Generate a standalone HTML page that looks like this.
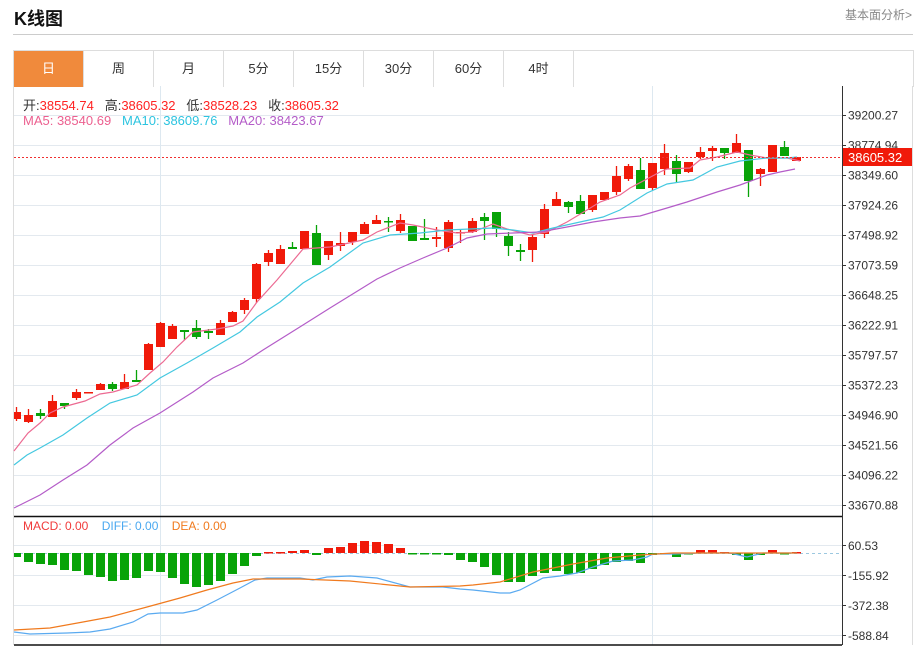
<!DOCTYPE html>
<html><head><meta charset="utf-8"><style>
body{margin:0;width:919px;height:648px;background:#fff;overflow:hidden;font-family:"Liberation Sans","Noto Sans CJK SC",sans-serif;position:relative}
.t{position:absolute;left:14px;top:5px;font-size:18px;font-weight:bold;color:#111}
.r{position:absolute;left:845px;top:6px;font-size:12px;color:#888}
.hl{position:absolute;left:13px;top:34px;width:900px;height:1px;background:#ccc}
.tabs{position:absolute;left:13px;top:50px;width:899px;height:36px;border:1px solid #ddd;border-bottom:none;display:flex}
.tabs div{width:69px;border-right:1px solid #ddd;text-align:center;line-height:36px;font-size:13px;color:#333}
.tabs div.a{background:#f08a3c;color:#fff}
svg{position:absolute;left:0;top:0}
</style></head><body>
<div class="t">K线图</div><div class="r">基本面分析&gt;</div><div class="hl"></div>
<div class="tabs"><div class="a">日</div><div>周</div><div>月</div><div>5分</div><div>15分</div><div>30分</div><div>60分</div><div>4时</div></div>
<svg id="s" width="919" height="648" font-family="Liberation Sans, Noto Sans CJK SC, sans-serif"></svg>
<script>
var s='';
function L(x1,y1,x2,y2,c,w,d){s+='<line x1="'+x1+'" y1="'+y1+'" x2="'+x2+'" y2="'+y2+'" stroke="'+c+'" stroke-width="'+(w||1)+'"'+(d?' stroke-dasharray="'+d+'"':'')+'/>';}
function T(x,y,t,c,sz){s+='<text x="'+x+'" y="'+y+'" fill="'+c+'" font-size="'+(sz||12)+'">'+t+'</text>';}
function P(pts,c){s+='<polyline fill="none" stroke="'+c+'" stroke-width="1.2" points="'+pts+'"/>';}
L(13.5,86,13.5,645,'#ddd');L(912.5,86,912.5,645,'#ddd');
var labs=['39200.27','38774.94','38349.60','37924.26','37498.92','37073.59','36648.25','36222.91','35797.57','35372.23','34946.90','34521.56','34096.22','33670.88'];
for(var i=0;i<14;i++){var y=115+30*i+.5;L(14,y,842,y,'#e3e9ef');L(842,y,846,y,'#333');T(848,y+4,labs[i],'#333',12);}
L(160.5,86,160.5,645,'#dde8f0');L(652.5,86,652.5,645,'#dde8f0');
[545,575,605,635].forEach(function(y,i){L(14,y+.5,842,y+.5,'#e3e9ef');L(842,y+.5,846,y+.5,'#333');T(848,y+5,['60.53','-155.92','-372.38','-588.84'][i],'#333',12);});
L(842.5,86,842.5,645,'#333');L(14,516.5,842,516.5,'#111',1.5);L(14,645,842,645,'#111',1.5);
var C=[[412,419,407,421,1],[415,422,409,423,1],[413,416,409,419,0],[401,417,395,417,1],[403,406,403,409,0],[392,398,389,400,1],[392,393,392,393,1],[384,390,383,390,1],[384,389,382,391,0],[382,389,374,389,1],[380,382,370,382,0],[344,370,343,370,1],[323,347,322,347,1],[326,339,324,339,1],[330,332,330,340,0],[328,337,320,339,0],[331,333,329,339,0],[323,335,320,335,1],[312,322,311,322,1],[300,310,298,314,1],[264,299,263,303,1],[253,262,250,266,1],[249,264,245,264,1],[247,249,242,249,0],[231,249,231,249,1],[233,265,225,265,0],[241,255,241,260,1],[243,246,232,251,1],[232,242,232,245,1],[224,234,222,234,1],[220,224,215,224,1],[221,222,217,232,0],[220,231,214,233,1],[226,241,226,241,0],[238,240,219,240,0],[237,239,227,247,1],[222,248,220,252,1],[232,233,230,243,1],[221,232,218,233,1],[217,221,213,240,0],[212,229,212,237,0],[236,246,232,256,0],[250,252,244,261,0],[237,250,235,262,1],[209,234,204,238,1],[199,206,192,206,1],[202,207,201,213,0],[201,214,195,214,0],[195,210,195,212,1],[192,200,192,200,1],[176,192,166,195,1],[166,179,164,181,1],[170,189,158,189,0],[163,188,163,190,1],[153,169,144,175,1],[161,174,155,183,0],[162,172,162,173,1],[152,157,147,159,1],[148,151,146,161,1],[148,153,148,159,0],[143,153,134,153,1],[150,181,150,197,0],[169,174,168,186,1],[145,172,145,172,1],[147,156,141,156,0],[157,161,157,161,1]];
C.forEach(function(c,i){var x=12+12*i,cx=x+4.5,col=c[4]?'#f01a0a':'#08a308';if(i==0)x=14;L(cx,c[2],cx,c[3],col,1.3);s+='<rect x="'+x+'" y="'+c[0]+'" width="'+(i==0?7:9)+'" height="'+Math.max(1.5,c[1]-c[0])+'" fill="'+col+'"/>';});
P('14,451 28,433 40,423 50,413 63,407 85,401 100,394 113,392 137,385 150,373 163,362 177,347 193,332 217,329 233,326 243,321 257,302 277,280 303,249 330,247 363,240 377,232 400,223 413,225 437,230 457,233 473,232 493,224 507,229 530,235 547,232 567,222 587,210 600,202 620,195 630,188 660,172 667,169 690,168 700,160 717,157 737,152 750,155 767,158 787,158 800,161','#ec6a92');
P('14,465 27,455 40,448 63,435 87,418 110,403 137,395 160,378 187,363 213,348 240,332 257,317 280,302 303,283 330,267 363,243 390,235 420,233 447,230 493,228 513,230 533,233 553,228 580,222 603,217 620,210 647,193 667,184 693,180 717,167 740,161 767,158 787,158 797,157','#44c8e0');
P('14,508 40,495 63,480 87,465 110,445 133,428 160,413 193,392 213,378 243,363 263,350 303,325 330,308 377,279 400,268 423,258 447,248 467,238 487,234 513,233 540,232 567,227 593,222 620,218 640,216 667,208 687,202 717,192 740,185 767,175 780,172 795,169','#b45cc8');
L(14,157.5,842,157.5,'#f03030',1,'2,2');
s+='<rect x="843" y="148" width="69" height="18" fill="#f01a0a"/>';T(848,162,'38605.32','#fff',13);
L(14,553.5,842,553.5,'#9cc8e0',1,'3,3');
var M=[557,562,564,565,570,571,575,577,581,580,578,571,572,578,584,587,585,581,574,566,556,552,552,551,550,555,548,547,543,541,542,544,548,554,554,554,555,560,562,567,575,582,582,576,573,571,574,573,569,565,562,561,563,555,554,557,554,550,550,552,555,560,555,550,554,552];
M.forEach(function(b,i){var x=i==0?14:12+12*i,w=i==0?7:9,red=b<553;var y=red?b:553,h=Math.max(1.5,Math.abs(b-553));s+='<rect x="'+x+'" y="'+y+'" width="'+w+'" height="'+h+'" fill="'+(red?'#f01a0a':'#08a308')+'"/>';});
P('14,632 30,634 67,633 90,632 110,629 133,622 148,614 160,613 183,613 197,610 217,600 240,588 255,580 267,578 300,578 313,580 327,577 350,576 377,578 410,587 443,587 460,589 473,590 500,593 510,593 520,590 543,578 560,576 577,573 593,567 613,561 633,560 647,557 653,554 673,554 700,553 730,553 747,557 763,553 797,553','#5aaaf0');
P('14,630 50,628 83,622 110,617 147,607 180,598 207,590 233,583 253,579 300,579 350,581 410,587 460,586 473,585 500,582 533,572 573,564 607,558 640,555 673,553 707,553 797,553','#f07a1e');
document.getElementById('s').innerHTML=s;
</script>
<div style="position:absolute;left:23px;top:95px;font-size:13px;color:#333;white-space:nowrap">开:<span style="color:#f22">38554.74</span>&nbsp;&nbsp; 高:<span style="color:#f22">38605.32</span>&nbsp;&nbsp; 低:<span style="color:#f22">38528.23</span>&nbsp;&nbsp; 收:<span style="color:#f22">38605.32</span></div>
<div style="position:absolute;left:23px;top:113px;font-size:13px;white-space:nowrap"><span style="color:#ec5f8f">MA5: 38540.69</span>&nbsp;&nbsp;&nbsp;<span style="color:#2cc4e0">MA10: 38609.76</span>&nbsp;&nbsp;&nbsp;<span style="color:#b45cc8">MA20: 38423.67</span></div>
<div style="position:absolute;left:23px;top:519px;font-size:12px;white-space:nowrap"><span style="color:#f03a3a">MACD: 0.00</span>&nbsp;&nbsp;&nbsp;&nbsp;<span style="color:#4aa8f0">DIFF: 0.00</span>&nbsp;&nbsp;&nbsp;&nbsp;<span style="color:#f07a1e">DEA: 0.00</span></div>
</body></html>
